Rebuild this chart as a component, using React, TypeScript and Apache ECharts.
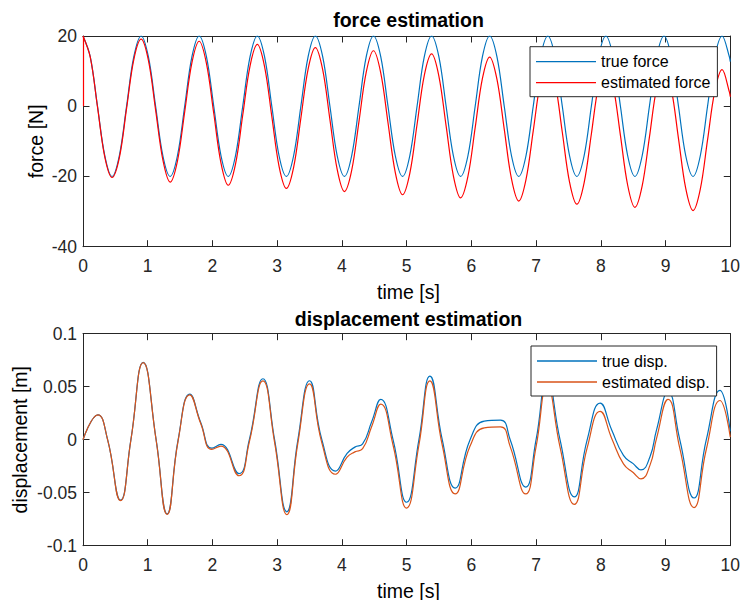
import React, { useEffect, useRef } from "react";
import * as echarts from "echarts";

const FONT = "'Liberation Sans', Arial, Helvetica, sans-serif";
const AXIS_COLOR = "#262626";
const BLUE = "#0072BD";
const RED = "#FF0000";
const ORANGE = "#D95319";

// ---- force subplot (samples every 1/8 of the 0.898 s period) ----
const forceTime = [
  0, 0.112, 0.224, 0.337, 0.449, 0.561, 0.673, 0.785, 0.898, 1.01,
  1.122, 1.234, 1.346, 1.459, 1.571, 1.683, 1.795, 1.907, 2.02, 2.132,
  2.244, 2.356, 2.468, 2.581, 2.693, 2.805, 2.917, 3.029, 3.142, 3.254,
  3.366, 3.478, 3.59, 3.703, 3.815, 3.927, 4.039, 4.151, 4.264, 4.376,
  4.488, 4.6, 4.712, 4.825, 4.937, 5.049, 5.161, 5.273, 5.386, 5.498,
  5.61, 5.722, 5.834, 5.947, 6.059, 6.171, 6.283, 6.395, 6.508, 6.62,
  6.732, 6.844, 6.956, 7.069, 7.181, 7.293, 7.405, 7.517, 7.63, 7.742,
  7.854, 7.966, 8.078, 8.19, 8.303, 8.415, 8.527, 8.639, 8.751, 8.863,
  8.976, 9.088, 9.2, 9.312, 9.425, 9.537, 9.649, 9.761, 9.874, 9.986, 10,
];
const trueForce = [
  20, 14.1, 0, -14.1, -20, -14.1, 0, 14.1, 20, 14.1,
  0, -14.1, -20, -14.1, 0, 14.1, 20, 14.1, 0, -14.1,
  -20, -14.1, 0, 14.1, 20, 14.1, 0, -14.1, -20, -14.1,
  0, 14.1, 20, 14.1, 0, -14.1, -20, -14.1, 0, 14.1,
  20, 14.1, 0, -14.1, -20, -14.1, 0, 14.1, 20, 14.1,
  0, -14.1, -20, -14.1, 0, 14.1, 20, 14.1, 0, -14.1,
  -20, -14.1, 0, 14.1, 20, 14.1, 0, -14.1, -20, -14.1,
  0, 14.1, 20, 14.1, 0, -14.1, -20, -14.1, 0, 14.1,
  20, 14.1, 0, -14.1, -20, -14.1, 0, 14.1, 20, 14.1, 12.7,
];
const estimatedForce = [
  20, 14.0, -0.2, -14.5, -20.3, -14.7, -0.7, 13.3, 19.1, 13.1,
  -1.1, -15.3, -21.6, -15.6, -1.6, 12.4, 18.5, 12.2, -2.0, -16.2,
  -22.5, -16.5, -2.5, 11.5, 17.6, 11.3, -2.9, -17.1, -23.4, -17.4,
  -3.4, 10.6, 16.7, 10.4, -3.8, -18.0, -24.3, -18.3, -4.3, 9.7,
  15.8, 9.5, -4.7, -18.9, -25.2, -19.1, -5.2, 8.8, 14.9, 8.6,
  -5.6, -19.8, -26.1, -20.0, -6.1, 7.9, 14.0, 7.7, -6.5, -20.7,
  -27.0, -20.9, -7.0, 7.0, 13.1, 6.8, -7.4, -21.6, -27.9, -21.8,
  -7.9, 6.1, 12.2, 5.9, -8.3, -22.5, -28.8, -22.7, -8.8, 5.2,
  11.3, 5.0, -9.2, -23.4, -29.7, -23.6, -9.6, 4.3, 10.4, 4.1, 2.7,
];
// the estimate is switched on at t = 0 from zero
const estimateStart = [0, 0];

// ---- displacement subplot ----
const dispTime = [
  0, 0.23, 0.38, 0.58, 0.74, 0.93, 1.13, 1.3, 1.47, 1.65,
  1.82, 1.99, 2.13, 2.41, 2.57, 2.78, 2.96, 3.15, 3.32, 3.5,
  3.69, 3.9, 4.08, 4.2, 4.32, 4.46, 4.6, 4.79, 5.0, 5.19,
  5.36, 5.55, 5.75, 5.98, 6.2, 6.45, 6.6, 6.84, 7.0, 7.17,
  7.37, 7.59, 7.79, 7.99, 8.17, 8.35, 8.5, 8.62, 8.76, 8.86,
  9.04, 9.22, 9.44, 9.63, 9.84, 10,
];
const trueDisp = [
  0, 0.0235, 0.0, -0.057, 0.0, 0.073, 0.0, -0.07, 0.0, 0.043,
  0.016, -0.008, -0.0045, -0.032, 0.0, 0.0575, 0.0, -0.068, 0.0, 0.0556,
  0.0, -0.0296, -0.013, -0.007, -0.004, 0.017, 0.038, 0.0, -0.059, 0.0,
  0.06, 0.0, -0.0456, 0.0, 0.0175, 0.0185, 0.0, -0.0447, 0.0, 0.058,
  0.0, -0.054, 0.0, 0.0345, 0.009, -0.0148, -0.0226, -0.0285, -0.016, 0.009,
  0.045, 0.0, -0.055, 0.0, 0.0465, 0.008,
];
const estimatedDisp = [
  0, 0.0235, 0.0, -0.0575, -0.0003, 0.0727, -0.0005, -0.0705, -0.0008, 0.0423,
  0.015, -0.0092, -0.006, -0.034, -0.002, 0.0555, -0.0025, -0.0707, -0.003, 0.0526,
  -0.003, -0.0326, -0.0165, -0.0115, -0.0085, 0.0125, 0.0335, -0.005, -0.0645, -0.005,
  0.0555, -0.005, -0.0511, -0.006, 0.0111, 0.0121, -0.0065, -0.0512, -0.0065, 0.051,
  -0.007, -0.061, -0.0075, 0.0267, 0.001, -0.0228, -0.031, -0.037, -0.024, 0.001,
  0.038, -0.008, -0.064, -0.009, 0.037, 0.0025,
];

const pairs = (xs: number[], ys: number[]) => xs.map((x, i) => [x, ys[i]]);

// plot boxes in pixels
const BOX = { left: 83, width: 651 };
const TOP_BOX = { top: 36, height: 210.7 };
const BOTTOM_BOX = { top: 333.7, height: 212 };

const tickFont = { fontSize: 17.5, fontFamily: FONT, color: AXIS_COLOR };

function xAxes(gridIndex: number) {
  const base = {
    gridIndex,
    type: "value" as const,
    min: 0,
    max: 10,
    interval: 1,
    splitLine: { show: false },
    axisLine: { show: true, onZero: false, lineStyle: { color: AXIS_COLOR, width: 1 } },
    axisTick: { show: true, inside: true, length: 6.5, lineStyle: { color: AXIS_COLOR, width: 1 } },
  };
  return [
    { ...base, position: "bottom", axisLabel: { ...tickFont, margin: 10 } },
    { ...base, position: "top", axisLabel: { show: false } },
  ];
}

function yAxes(gridIndex: number, min: number, max: number, interval: number) {
  const base = {
    gridIndex,
    type: "value" as const,
    min,
    max,
    interval,
    splitLine: { show: false },
    axisLine: { show: true, onZero: false, lineStyle: { color: AXIS_COLOR, width: 1 } },
    axisTick: { show: true, inside: true, length: 6.5, lineStyle: { color: AXIS_COLOR, width: 1 } },
  };
  return [
    { ...base, position: "left", axisLabel: { ...tickFont, margin: 6 } },
    { ...base, position: "right", axisLabel: { show: false } },
  ];
}

function legendBox(names: string[], left: number, top: number) {
  return {
    data: names,
    orient: "vertical" as const,
    left,
    top,
    icon: "rect",
    itemWidth: 60,
    itemHeight: 1.3,
    itemGap: 5,
    padding: [7, 7, 6, 6],
    borderColor: AXIS_COLOR,
    borderWidth: 1,
    borderRadius: 0,
    backgroundColor: "#ffffff",
    selectedMode: false,
    textStyle: { fontSize: 16, fontFamily: FONT, color: "#000000", lineHeight: 16 },
  };
}

function label(text: string, x: number, y: number, opts: Record<string, unknown> = {}, bold = false) {
  return {
    type: "text",
    x,
    y,
    style: {
      text,
      fill: "#000000",
      font: `${bold ? "bold " : ""}19.5px ${FONT}`,
      align: "center",
      verticalAlign: "middle",
    },
    ...opts,
  };
}

export default function App() {
  const ref = useRef<HTMLDivElement>(null);

  useEffect(() => {
    const chart = echarts.init(ref.current!, null, { renderer: "svg" });
    const lineBase = {
      type: "line" as const,
      symbol: "none",
      showSymbol: false,
      clip: true,
    };
    chart.setOption({
      animation: false,
      backgroundColor: "#ffffff",
      grid: [
        { left: BOX.left, width: BOX.width, top: TOP_BOX.top, height: TOP_BOX.height },
        { left: BOX.left, width: BOX.width, top: BOTTOM_BOX.top, height: BOTTOM_BOX.height },
      ],
      xAxis: [...xAxes(0), ...xAxes(1)],
      yAxis: [...yAxes(0, -40, 20, 20), ...yAxes(1, -0.1, 0.1, 0.05)],
      legend: [
        legendBox(["true force", "estimated force"], 530, 46.7),
        legendBox(["true disp.", "estimated disp."], 531, 346),
      ],
      series: [
        {
          ...lineBase,
          smooth: 0.35,
          name: "true force",
          xAxisIndex: 0,
          yAxisIndex: 0,
          data: pairs(forceTime, trueForce),
          lineStyle: { color: BLUE, width: 1.2 },
          itemStyle: { color: BLUE },
        },
        {
          ...lineBase,
          smooth: 0.35,
          name: "estimated force",
          xAxisIndex: 0,
          yAxisIndex: 0,
          data: pairs(forceTime, estimatedForce),
          lineStyle: { color: RED, width: 1.2 },
          itemStyle: { color: RED },
          markLine: {
            silent: true,
            symbol: "none",
            label: { show: false },
            lineStyle: { color: RED, width: 1.2, type: "solid" },
            data: [[{ coord: estimateStart }, { coord: [forceTime[0], estimatedForce[0]] }]],
          },
        },
        {
          ...lineBase,
          smooth: 0.5,
          name: "true disp.",
          xAxisIndex: 2,
          yAxisIndex: 2,
          data: pairs(dispTime, trueDisp),
          lineStyle: { color: BLUE, width: 1.2 },
          itemStyle: { color: BLUE },
        },
        {
          ...lineBase,
          smooth: 0.5,
          name: "estimated disp.",
          xAxisIndex: 2,
          yAxisIndex: 2,
          data: pairs(dispTime, estimatedDisp),
          lineStyle: { color: ORANGE, width: 1.2 },
          itemStyle: { color: ORANGE },
        },
      ],
      graphic: [
        label("force estimation", 408.5, 20, {}, true),
        label("time [s]", 408.5, 291.5),
        label("force [N]", 35.5, 141.3, { rotation: Math.PI / 2 }),
        label("displacement estimation", 408.5, 319, {}, true),
        label("time [s]", 408.5, 590.5),
        label("displacement [m]", 19.7, 439.7, { rotation: Math.PI / 2 }),
      ],
    });
    return () => chart.dispose();
  }, []);

  return (
    <div
      ref={ref}
      style={{ position: "fixed", left: 0, top: 0, width: 743, height: 600, background: "#ffffff" }}
    />
  );
}
